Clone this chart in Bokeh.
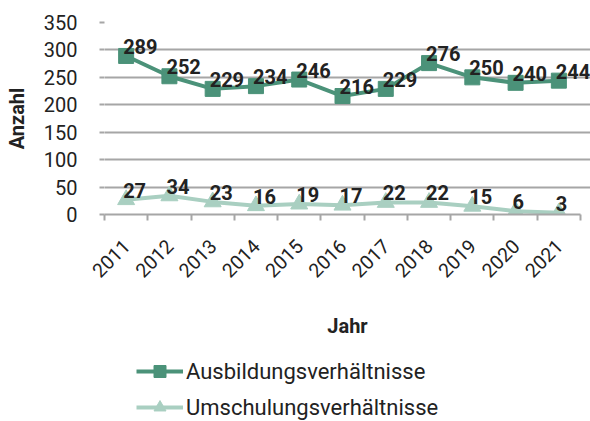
import numpy as np
from bokeh.plotting import figure
from bokeh.layouts import column
from bokeh.models import (ColumnDataSource, LabelSet, Legend, LegendItem, FixedTicker,
                          CustomJSTickFormatter, Range1d)
from bokeh.core.properties import value
from bokeh.embed import file_html
from bokeh.resources import INLINE

years = ["2011", "2012", "2013", "2014", "2015", "2016", "2017", "2018", "2019", "2020", "2021"]
ausbildung = [289, 252, 229, 234, 246, 216, 229, 276, 250, 240, 244]
umschulung = [27, 34, 23, 16, 19, 17, 22, 22, 15, 6, 3]
y_ticks = [0, 50, 100, 150, 200, 250, 300, 350]
series_names = ["Ausbildungsverhältnisse", "Umschulungsverhältnisse"]

DARK = "#4b9279"
LIGHT = "#a9cfc1"
GRID = "#a6a6a6"
TXT = "#222222"
FONT = "Roboto"

xpos = [i + 0.5 for i in range(len(years))]
src = ColumnDataSource(dict(x=xpos, a=ausbildung, u=umschulung,
                            al=[str(v) for v in ausbildung], ul=[str(v) for v in umschulung]))

# frame spans a little past the last category so the last data label is not clipped
p = figure(width=590, height=345, output_backend="svg", toolbar_location=None,
           x_range=Range1d(0, len(years) + 0.231), y_range=Range1d(0, 350),
           min_border_left=104, min_border_right=0, min_border_top=22, min_border_bottom=131)
p.outline_line_color = None
p.background_fill_color = None
p.border_fill_color = None

# lines and markers
p.line("x", "a", source=src, line_color=DARK, line_width=4)
p.scatter("x", "a", source=src, marker="square", size=15, fill_color=DARK, line_color=DARK)
p.line("x", "u", source=src, line_color=LIGHT, line_width=4)
p.scatter("x", "u", source=src, marker="triangle", size=17, fill_color=LIGHT, line_color=LIGHT)

# data labels
for col, ycol in (("al", "a"), ("ul", "u")):
    p.add_layout(LabelSet(x="x", y=ycol, text=col, source=src, x_offset=-3, y_offset=2,
                          text_font=value(FONT), text_font_size="20px", text_font_style="bold",
                          text_color=TXT, text_baseline="alphabetic", text_align="left"))

# x axis
xa = p.xaxis[0]
xa.bounds = (0, len(years))
xa.ticker = FixedTicker(ticks=xpos, minor_ticks=list(range(len(years) + 1)))
xa.formatter = CustomJSTickFormatter(args=dict(years=years), code="return years[Math.floor(tick)];")
xa.major_label_orientation = np.pi / 4
xa.major_tick_line_color = None
xa.minor_tick_line_color = GRID
xa.minor_tick_line_width = 2
xa.minor_tick_in = 0
xa.minor_tick_out = 6
xa.axis_line_color = GRID
xa.axis_line_width = 2
xa.major_label_standoff = 22
xa.major_label_text_font = FONT
xa.major_label_text_font_size = "19.5px"
xa.major_label_text_color = TXT
xa.axis_label = "Jahr"
xa.axis_label_text_font = FONT
xa.axis_label_text_font_size = "20px"
xa.axis_label_text_font_style = "bold"
xa.axis_label_text_color = TXT
xa.axis_label_standoff = 27

# y axis
ya = p.yaxis[0]
ya.ticker = FixedTicker(ticks=y_ticks)
ya.axis_line_color = None
ya.major_tick_line_color = GRID
ya.major_tick_line_width = 2
ya.major_tick_in = 0
ya.major_tick_out = 5
ya.minor_tick_line_color = None
ya.major_label_standoff = 22
ya.major_label_text_font = FONT
ya.major_label_text_font_size = "20px"
ya.major_label_text_color = TXT
ya.axis_label = "Anzahl"
ya.axis_label_text_font = FONT
ya.axis_label_text_font_size = "20px"
ya.axis_label_text_font_style = "bold"
ya.axis_label_text_color = TXT
ya.axis_label_standoff = 12

p.xgrid.grid_line_color = None
p.ygrid.grid_line_color = GRID
p.ygrid.grid_line_width = 2

# legend in a separate strip below the chart (its view range excludes the data)
q = figure(width=590, height=76, output_backend="svg", toolbar_location=None,
           x_range=Range1d(100, 101), y_range=Range1d(0, 1),
           min_border_left=0, min_border_right=0, min_border_top=0, min_border_bottom=0)
q.axis.visible = False
q.grid.grid_line_color = None
q.outline_line_color = None
q.background_fill_color = None
q.border_fill_color = None
qla = q.line("x", "a", source=src, line_color=DARK, line_width=4)
qma = q.scatter("x", "a", source=src, marker="square", size=15, fill_color=DARK, line_color=DARK)
qlu = q.line("x", "u", source=src, line_color=LIGHT, line_width=4)
qmu = q.scatter("x", "u", source=src, marker="triangle", size=17, fill_color=LIGHT, line_color=LIGHT)

legend = Legend(items=[LegendItem(label=series_names[0], renderers=[qla, qma]),
                       LegendItem(label=series_names[1], renderers=[qlu, qmu])],
                location=(32, -1), orientation="vertical",
                glyph_width=47, glyph_height=30, label_height=20, label_standoff=3,
                spacing=6, padding=0, margin=0,
                border_line_color=None, background_fill_alpha=0,
                label_text_font=FONT, label_text_font_size="22px", label_text_color=TXT)
q.add_layout(legend, "center")

layout = column(p, q, spacing=0)
open("out.html", "w").write(file_html(layout, INLINE))
